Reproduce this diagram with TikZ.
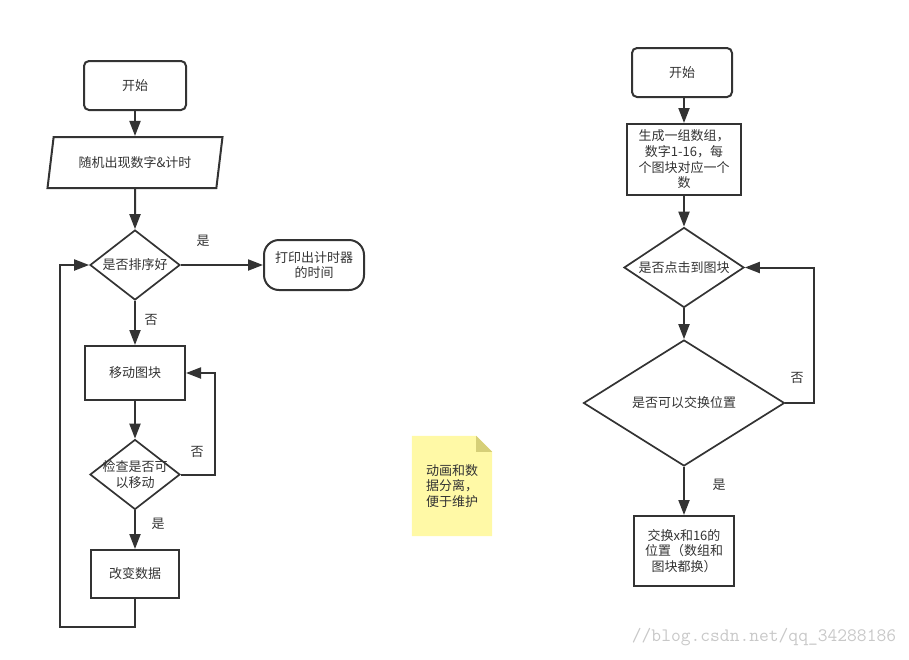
\documentclass[tikz,border=0pt]{standalone}
\usepackage{fontspec}
\setmainfont{Noto Sans CJK SC}
\usetikzlibrary{shapes.geometric,arrows.meta,calc}
\definecolor{ln}{HTML}{333333}
\definecolor{notefill}{HTML}{FFF9A6}
\definecolor{notefold}{HTML}{D6CF78}
\definecolor{wm}{HTML}{C8C8C8}
\begin{document}
\begin{tikzpicture}[x=1pt,y=-1pt,
  font=\fontsize{13}{15.7}\selectfont,
  every node/.style={text=ln},
  box/.style={draw=ln, line width=2pt, rectangle, inner sep=0pt, align=center},
  rbox/.style={box, rounded corners=5pt},
  dia/.style={draw=ln, line width=1.7pt, diamond, inner sep=0pt},
  para/.style={draw=ln, line width=2pt, trapezium, trapezium stretches=true,
    trapezium left angle=70.6, trapezium right angle=109.4, inner sep=0pt},
  arr/.style={draw=ln, line width=2pt, -{Triangle[length=15pt,width=11pt]}},
  lbl/.style={inner sep=0pt}]
\useasboundingbox (0,0) rectangle (909,659);

% ---------- left flow ----------
\node[rbox, minimum width=102pt, minimum height=49pt] (s1) at (135,85.5) {开始};
\node[para, minimum width=175pt, minimum height=51pt] (par) at (135,162.5) {随机出现数字\&计时};
\node[dia, minimum width=90pt, minimum height=70pt,
  label={[align=center]center:是否排序好}] (d1) at (135,265) {};
\node[box, rounded corners=15pt, minimum width=100pt, minimum height=50pt] (pr) at (314,265) {打印出计时器\\的时间};
\node[box, minimum width=100pt, minimum height=54pt] (mv) at (135,373) {移动图块};
\node[dia, minimum width=90pt, minimum height=70pt,
  label={[align=center]center:检查是否可\\以移动}] (d2) at (135,474.5) {};
\node[box, minimum width=88pt, minimum height=48pt] (ch) at (135,574) {改变数据};
\coordinate (lp) at (60,627);
\coordinate (rp) at (215,474.5);

\draw[arr] (s1) -- (par);
\draw[arr] (par) -- (d1);
\draw[arr] (d1) -- (pr);
\draw[arr] (d1) -- (mv);
\draw[arr] (mv) -- (d2);
\draw[arr] (d2) -- (ch);
\draw[arr] (d2.east) -- (rp) |- (mv.east);
\draw[arr] (ch.south) |- (lp) |- (d1.west);

\node[lbl] (ly1) at (203,241) {是};
\node[lbl] (ln1) at (151,320) {否};
\node[lbl] (ln2) at (197,452) {否};
\node[lbl] (ly2) at (158,524) {是};

% ---------- note ----------
\node[minimum width=80pt, minimum height=100pt, inner sep=0pt] (note) at (452,486) {};
\fill[notefill] (note.north west) -- ($(note.north east)+(-16,0)$) -- ($(note.north east)+(0,16)$) -- (note.south east) -- (note.south west) -- cycle;
\fill[notefold] ($(note.north east)+(-16,0)$) -- ($(note.north east)+(-16,16)$) -- ($(note.north east)+(0,16)$) -- cycle;
\node[align=left, inner sep=0pt] (notetext) at (452,486) {动画和数\\据分离，\\便于维护};

% ---------- right flow ----------
\node[rbox, minimum width=100pt, minimum height=49pt] (s2) at (682,72.5) {开始};
\node[box, minimum width=114pt, minimum height=71pt] (r1) at (684,159.5) {生成一组数组，\\数字1-16，每\\个图块对应一个\\数};
\node[dia, minimum width=120pt, minimum height=80pt,
  label={[align=center]center:是否点击到图块}] (e1) at (684,267.5) {};
\node[dia, minimum width=201pt, minimum height=126pt,
  label={[align=center]center:是否可以交换位置}] (e2) at (684,403) {};
\node[box, minimum width=100pt, minimum height=70pt] (r2) at (684,551) {交换x和16的\\位置（数组和\\图块都换）};
\coordinate (rq) at (814,403);

\draw[arr] (s2.south -| r1.north) -- (r1.north);
\draw[arr] (r1) -- (e1);
\draw[arr] (e1) -- (e2);
\draw[arr] (e2) -- (r2);
\draw[arr] (e2.east) -- (rq) |- (e1.east);

\node[lbl] (rn1) at (797,378) {否};
\node[lbl] (ry1) at (719,485) {是};

% ---------- watermark ----------
\node[text=wm, inner sep=0pt, font=\ttfamily\fontsize{19}{19}\selectfont] (wmk) at (764,637) {//blog.csdn.net/qq\_34288186};
\end{tikzpicture}
\end{document}
